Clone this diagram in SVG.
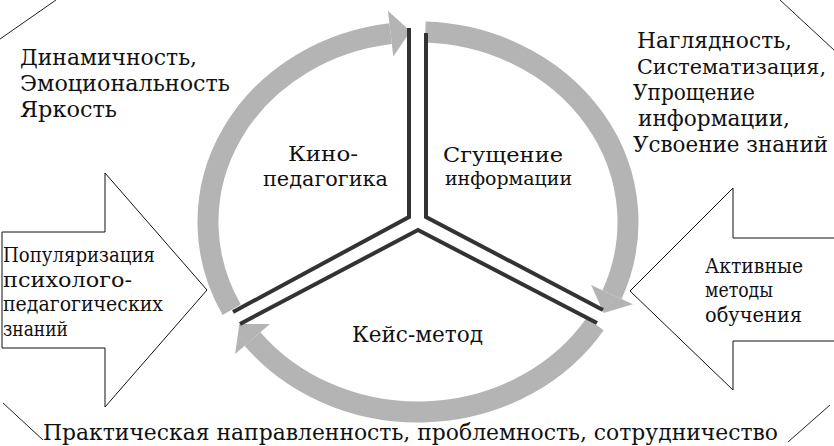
<svg xmlns="http://www.w3.org/2000/svg" width="834" height="446" viewBox="0 0 834 446">
<style>
text{font-family:"DejaVu Serif","Liberation Serif",serif;fill:#111;font-size:22px}
.s{font-size:20px}
.m{font-size:21px}
.n{font-size:18px}
.ring{fill:none;stroke:#b4b4b4;stroke-width:21}
.head{fill:#b4b4b4}
.div{fill:none;stroke:#333;stroke-width:4;stroke-linejoin:miter}
.out{fill:#fff;stroke:#111;stroke-width:1}
.corner{stroke:#222;stroke-width:1}
</style>
<rect width="834" height="446" fill="#fff"/>
<g id="corners">
<line class="corner" x1="0" y1="39" x2="56" y2="0"/>
<line class="corner" x1="780" y1="0" x2="834" y2="50"/>
<line class="corner" x1="3" y1="403" x2="43" y2="440"/>
<line class="corner" x1="830" y1="405" x2="788" y2="442"/>
</g>
<g id="arrow-left">
<polygon class="out" points="2,232 105,232 105,173 207,290 105,407 105,348 2,348"/>
<text class="s" x="3" y="262" textLength="152" lengthAdjust="spacingAndGlyphs">Популяризация</text>
<text class="s" x="3" y="287" textLength="129" lengthAdjust="spacingAndGlyphs">психолого-</text>
<text class="s" x="3" y="311" textLength="160" lengthAdjust="spacingAndGlyphs">педагогических</text>
<text class="s" x="3" y="336" textLength="65" lengthAdjust="spacingAndGlyphs">знаний</text>
</g>
<g id="arrow-right">
<polygon class="out" points="835,238 733,238 733,188 630,291 733,390 733,341 835,341"/>
<text class="s" x="705" y="273" textLength="98" lengthAdjust="spacingAndGlyphs">Активные</text>
<text class="s" x="705" y="297" textLength="68" lengthAdjust="spacingAndGlyphs">методы</text>
<text class="s" x="705" y="322" textLength="97" lengthAdjust="spacingAndGlyphs">обучения</text>
</g>
<g id="connectors">
<path class="ring" d="M 231.7 309.7 A 210 190 0 0 1 390.6 33.6"/>
<polygon class="head" points="393.3,56.4 410.5,31.2 387.9,10.8"/>
<path class="ring" d="M 425.3 32.1 A 210 190 0 0 1 612.0 294.7"/>
<polygon class="head" points="632.9,304.3 603.7,312.9 591.1,285.1"/>
<path class="ring" d="M 595.1 324.1 A 210 190 0 0 1 252.5 339.0"/>
<polygon class="head" points="269.9,324.0 239.4,323.9 235.1,354.0"/>
<polyline class="div" points="409,28 409,217 233,312"/>
<polyline class="div" points="426,33 426,217 603,310"/>
<polyline class="div" points="240,324 418,230 597,323"/>
</g>
<g id="kino">
<text class="m" x="288" y="161" textLength="70" lengthAdjust="spacingAndGlyphs">Кино-</text>
<text class="m" x="263" y="186" textLength="125" lengthAdjust="spacingAndGlyphs">педагогика</text>
</g>
<g id="sgushchenie">
<text class="m" x="443" y="162" textLength="120" lengthAdjust="spacingAndGlyphs">Сгущение</text>
<text class="n" x="445" y="185" textLength="127" lengthAdjust="spacingAndGlyphs">информации</text>
</g>
<g id="keys">
<text x="352" y="342" textLength="131" lengthAdjust="spacingAndGlyphs">Кейс-метод</text>
</g>
<g id="top-left-text">
<text x="20" y="65" textLength="177" lengthAdjust="spacingAndGlyphs">Динамичность,</text>
<text x="20" y="91" textLength="210" lengthAdjust="spacingAndGlyphs">Эмоциональность</text>
<text x="20" y="117" textLength="97" lengthAdjust="spacingAndGlyphs">Яркость</text>
</g>
<g id="top-right-text">
<text x="637" y="48" textLength="155" lengthAdjust="spacingAndGlyphs">Наглядность,</text>
<text x="637" y="74" style="font-size:20.5px" textLength="189" lengthAdjust="spacingAndGlyphs">Систематизация,</text>
<text x="633" y="100" textLength="122" lengthAdjust="spacingAndGlyphs">Упрощение</text>
<text x="638" y="126" textLength="152" lengthAdjust="spacingAndGlyphs">информации,</text>
<text x="633" y="152" textLength="195" lengthAdjust="spacingAndGlyphs">Усвоение знаний</text>
</g>
<g id="bottom-text">
<text x="43" y="440" textLength="735" lengthAdjust="spacingAndGlyphs">Практическая направленность, проблемность, сотрудничество</text>
</g>
</svg>
